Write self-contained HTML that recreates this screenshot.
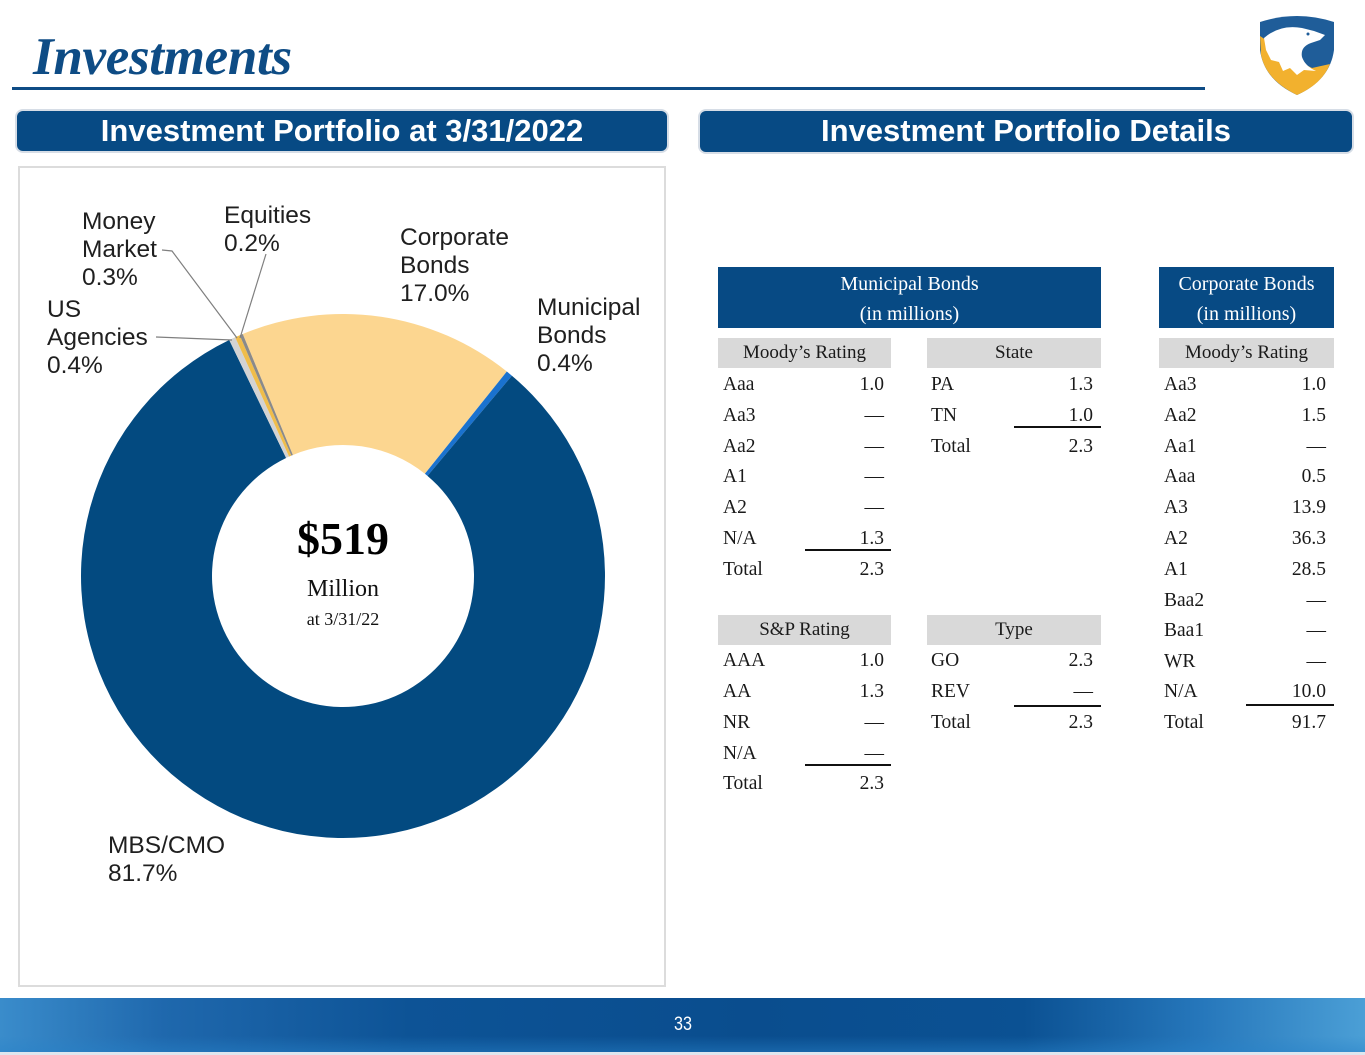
<!DOCTYPE html>
<html><head><meta charset="utf-8">
<style>
*{margin:0;padding:0;box-sizing:border-box}
body{width:1365px;height:1055px;background:#fff;position:relative;overflow:hidden;font-family:"Liberation Sans",Arial,sans-serif}
.abs{position:absolute}
.title{left:33px;top:26px;font-family:"Liberation Serif",serif;font-style:italic;font-weight:bold;font-size:53px;color:#0e4c85;line-height:62px;letter-spacing:-0.3px}
.bar{position:absolute;background:#074a84;border-radius:6px;box-shadow:0 0 0 2px #d6dde6;color:#fff;font-weight:bold;font-size:31px;text-align:center;line-height:40px}
.frame{left:18px;top:166px;width:648px;height:821px;border:2px solid #dcdcdc}
.lbl{position:absolute;font-size:24.5px;line-height:28px;color:#1f1f1f}
.hd{position:absolute;background:#074a84;color:#fff;font-family:"Liberation Serif",serif;font-size:20px;text-align:center}
.sh{position:absolute;background:#d9d9d9;height:30px;line-height:30px;text-align:center;font-family:"Liberation Serif",serif;font-size:19px;color:#1a1a1a}
.row{position:absolute;height:22px;line-height:22px;display:flex;justify-content:space-between;font-family:"Liberation Serif",serif;font-size:19.5px;color:#1a1a1a}
.ul{position:absolute;height:2px;background:#111}
.footer{left:0;top:998px;width:1365px;height:54px;background:linear-gradient(90deg,#3a8ccb 0%,#1f68ad 12%,#0d5396 30%,#0a4d8e 55%,#0b5193 75%,#2677bb 88%,#4b9fd6 100%)}
.footer2{left:0;top:1036px;width:1365px;height:16px;background:linear-gradient(180deg,rgba(40,130,200,0) 0%,rgba(40,130,200,0.45) 100%)}
</style></head><body>

<div class="abs title">Investments</div>
<div class="abs" style="left:12px;top:87px;width:1193px;height:3px;background:#0e4c85"></div>

<svg class="abs" style="left:0;top:0" width="1365" height="110">
  <path d="M1260,22 Q1297,10 1334,22 L1334,50 Q1330,80 1297,95 Q1264,80 1260,50 Z" fill="#1f5d99"/>
  <path d="M1260,36 L1278,48 L1296,60 L1312,68 L1330,64 Q1322,84 1297,95 Q1266,80 1261,55 Z" fill="#f2b12e"/>
  <path d="M1264,38 Q1280,24 1302,28 L1314,31 L1325,35 L1320,40 L1311,43 Q1300,47 1302,57 Q1305,66 1316,71 L1304,70 L1297,75 L1290,68 L1283,71 L1279,62 L1271,60 L1266,50 Z" fill="#fff"/>
  <circle cx="1308" cy="34" r="1.5" fill="#1f5d99"/>
</svg>

<div class="bar" style="left:17px;top:111px;width:650px;height:40px">Investment Portfolio at 3/31/2022</div>
<div class="bar" style="left:700px;top:111px;width:652px;height:41px">Investment Portfolio Details</div>

<div class="abs frame"></div>

<svg class="abs" style="left:0;top:0" width="700" height="990">
  <path d="M242.74,333.94 A262,262 0 0 1 506.81,371.53 L424.91,473.76 A131,131 0 0 0 292.87,454.97 Z" fill="#fcd690"/>
  <path d="M506.81,371.53 A262,262 0 0 1 511.90,375.71 L427.45,475.85 A131,131 0 0 0 424.91,473.76 Z" fill="#1a72cf"/>
  <path d="M511.90,375.71 A262,262 0 1 1 229.21,340.00 L286.11,458.00 A131,131 0 1 0 427.45,475.85 Z" fill="#034a80"/>
  <path d="M229.21,340.00 A262,262 0 0 1 235.18,337.21 L289.09,456.61 A131,131 0 0 0 286.11,458.00 Z" fill="#d3d3d3"/>
  <path d="M235.18,337.21 A262,262 0 0 1 239.72,335.22 L291.36,455.61 A131,131 0 0 0 289.09,456.61 Z" fill="#f0bd4a"/>
  <path d="M239.72,335.22 A262,262 0 0 1 242.74,333.94 L292.87,454.97 A131,131 0 0 0 291.36,455.61 Z" fill="#8a8a8a"/>
  <polyline points="156,337 232,340" fill="none" stroke="#7f7f7f" stroke-width="1.2"/>
  <polyline points="162,250 172,251 237,338" fill="none" stroke="#7f7f7f" stroke-width="1.2"/>
  <polyline points="266,254 240,338" fill="none" stroke="#7f7f7f" stroke-width="1.2"/>
</svg>

<div class="lbl" style="left:82px;top:208px">Money<br>Market<br>0.3%</div>
<div class="lbl" style="left:224px;top:202px">Equities<br>0.2%</div>
<div class="lbl" style="left:400px;top:224px">Corporate<br>Bonds<br>17.0%</div>
<div class="lbl" style="left:47px;top:296px">US<br>Agencies<br>0.4%</div>
<div class="lbl" style="left:537px;top:294px">Municipal<br>Bonds<br>0.4%</div>
<div class="lbl" style="left:108px;top:832px">MBS/CMO<br>81.7%</div>

<div class="abs" style="left:243px;top:512px;width:200px;text-align:center;font-family:'Liberation Serif',serif;font-weight:bold;font-size:46px;line-height:54px;color:#000">$519</div>
<div class="abs" style="left:243px;top:574px;width:200px;text-align:center;font-family:'Liberation Serif',serif;font-size:24px;line-height:30px;color:#111">Million</div>
<div class="abs" style="left:243px;top:607px;width:200px;text-align:center;font-family:'Liberation Serif',serif;font-size:18px;line-height:24px;color:#111">at 3/31/22</div>

<div class="hd" style="left:718px;top:267px;width:383px;height:61px"><div style="position:absolute;left:0;right:0;top:4px;line-height:26px">Municipal Bonds</div><div style="position:absolute;left:0;right:0;top:34px;line-height:26px">(in millions)</div></div>
<div class="hd" style="left:1159px;top:267px;width:175px;height:61px"><div style="position:absolute;left:0;right:0;top:4px;line-height:26px">Corporate Bonds</div><div style="position:absolute;left:0;right:0;top:34px;line-height:26px">(in millions)</div></div>

<div class="sh" style="left:718px;top:338px;width:173px">Moody’s Rating</div>
<div class="sh" style="left:927px;top:338px;width:174px">State</div>
<div class="sh" style="left:1159px;top:338px;width:175px">Moody’s Rating</div>
<div class="sh" style="left:718px;top:615px;width:173px">S&amp;P Rating</div>
<div class="sh" style="left:927px;top:615px;width:174px">Type</div>

<div class="row" style="left:723px;width:161px;top:374px"><span>Aaa</span><span>1.0</span></div>
<div class="row" style="left:723px;width:161px;top:405px"><span>Aa3</span><span>—</span></div>
<div class="row" style="left:723px;width:161px;top:436px"><span>Aa2</span><span>—</span></div>
<div class="row" style="left:723px;width:161px;top:466px"><span>A1</span><span>—</span></div>
<div class="row" style="left:723px;width:161px;top:497px"><span>A2</span><span>—</span></div>
<div class="row" style="left:723px;width:161px;top:528px"><span>N/A</span><span>1.3</span></div>
<div class="ul" style="left:805px;width:86px;top:549px"></div>
<div class="row" style="left:723px;width:161px;top:559px"><span>Total</span><span>2.3</span></div>

<div class="row" style="left:931px;width:162px;top:374px"><span>PA</span><span>1.3</span></div>
<div class="row" style="left:931px;width:162px;top:405px"><span>TN</span><span>1.0</span></div>
<div class="ul" style="left:1014px;width:87px;top:426px"></div>
<div class="row" style="left:931px;width:162px;top:436px"><span>Total</span><span>2.3</span></div>

<div class="row" style="left:723px;width:161px;top:650px"><span>AAA</span><span>1.0</span></div>
<div class="row" style="left:723px;width:161px;top:681px"><span>AA</span><span>1.3</span></div>
<div class="row" style="left:723px;width:161px;top:712px"><span>NR</span><span>—</span></div>
<div class="row" style="left:723px;width:161px;top:743px"><span>N/A</span><span>—</span></div>
<div class="ul" style="left:805px;width:86px;top:764px"></div>
<div class="row" style="left:723px;width:161px;top:773px"><span>Total</span><span>2.3</span></div>

<div class="row" style="left:931px;width:162px;top:650px"><span>GO</span><span>2.3</span></div>
<div class="row" style="left:931px;width:162px;top:681px"><span>REV</span><span>—</span></div>
<div class="ul" style="left:1014px;width:87px;top:705px"></div>
<div class="row" style="left:931px;width:162px;top:712px"><span>Total</span><span>2.3</span></div>

<div class="row" style="left:1164px;width:162px;top:374px"><span>Aa3</span><span>1.0</span></div>
<div class="row" style="left:1164px;width:162px;top:405px"><span>Aa2</span><span>1.5</span></div>
<div class="row" style="left:1164px;width:162px;top:436px"><span>Aa1</span><span>—</span></div>
<div class="row" style="left:1164px;width:162px;top:466px"><span>Aaa</span><span>0.5</span></div>
<div class="row" style="left:1164px;width:162px;top:497px"><span>A3</span><span>13.9</span></div>
<div class="row" style="left:1164px;width:162px;top:528px"><span>A2</span><span>36.3</span></div>
<div class="row" style="left:1164px;width:162px;top:559px"><span>A1</span><span>28.5</span></div>
<div class="row" style="left:1164px;width:162px;top:590px"><span>Baa2</span><span>—</span></div>
<div class="row" style="left:1164px;width:162px;top:620px"><span>Baa1</span><span>—</span></div>
<div class="row" style="left:1164px;width:162px;top:651px"><span>WR</span><span>—</span></div>
<div class="row" style="left:1164px;width:162px;top:681px"><span>N/A</span><span>10.0</span></div>
<div class="ul" style="left:1246px;width:88px;top:704px"></div>
<div class="row" style="left:1164px;width:162px;top:712px"><span>Total</span><span>91.7</span></div>

<div class="abs footer"></div>
<div class="abs footer2"></div>
<div class="abs" style="left:0;top:1052px;width:1365px;height:3px;background:#dfe6ee"></div>
<div class="abs" style="left:633px;top:1013px;width:100px;text-align:center;color:#fff;font-size:19px;line-height:24px;transform:scaleX(0.85)">33</div>

</body></html>
